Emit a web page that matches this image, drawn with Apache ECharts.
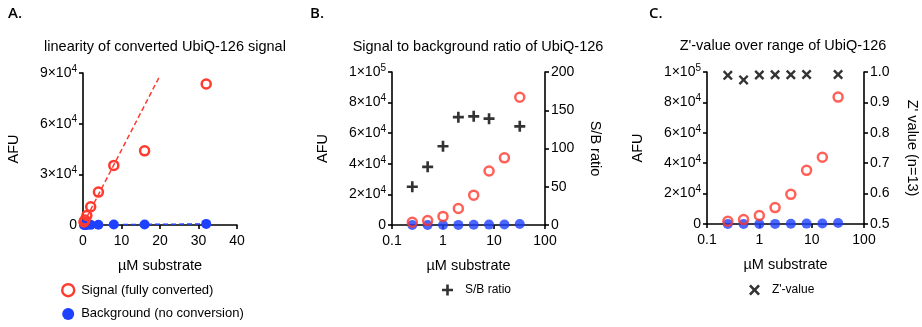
<!DOCTYPE html>
<html><head><meta charset="utf-8">
<script src="https://cdn.jsdelivr.net/npm/echarts@6/dist/echarts.min.js"></script>
<style>html,body{margin:0;padding:0;background:#fff}#c{width:922px;height:327px}</style>
</head><body><div id="c"></div>
<script>
// ---- data ----
const conc = [0.25, 0.5, 1, 2, 4, 8, 16, 32];
const signal = [1800, 2900, 5600, 10800, 19500, 35300, 43900, 83500];
const background = [36, 38, 54, 76, 135, 252, 340, 647];
const sbConc = [0.25, 0.5, 1, 2, 4, 8, 32];
const sbRatio = [50, 76, 103, 141, 142, 139, 129];
const zConc = [0.25, 0.5, 1, 2, 4, 8, 32];
const zValue = [0.989, 0.974, 0.990, 0.991, 0.991, 0.992, 0.992];
const fitSignalX = [0, 20];
const fitSignalY = [300, 88500];
const fitBgX = [0, 32];
const fitBgY = [20, 650];
const titles = ['linearity of converted UbiQ-126 signal', 'Signal to background ratio of UbiQ-126', "Z'-value over range of UbiQ-126"];
const panelLetters = ['A.', 'B.', 'C.'];
const xName = 'µM substrate';
const yName = 'AFU';
const legendA = ['Signal (fully converted)', 'Background (no conversion)'];

const RED = '#ff3a2e', BLUE = '#1e40ff', FONT = 'Liberation Sans, Arial, sans-serif';
const pair = (xs, ys) => xs.map((x, i) => [x, ys[i]]);
const PLUS = 'path://M3.8,0 H6.2 V3.8 H10 V6.2 H6.2 V10 H3.8 V6.2 H0 V3.8 H3.8 Z';
const CROSS = 'path://M1.7,0 L5,3.3 L8.3,0 L10,1.7 L6.7,5 L10,8.3 L8.3,10 L5,6.7 L1.7,10 L0,8.3 L3.3,5 L0,1.7 Z';

function sci(v) {
  if (v === 0) return '{m|0}';
  const e = Math.floor(Math.log10(v) + 1e-9);
  const m = Math.round(v / Math.pow(10, e));
  return '{m|' + m + '×10}{e|' + e + '}';
}
const sciRich = {
  m: {fontSize: 14, fontFamily: FONT, color: '#000', lineHeight: 18},
  e: {fontSize: 10, fontFamily: FONT, color: '#000', lineHeight: 10, verticalAlign: 'top'}
};
const axisLine = {show: true, lineStyle: {color: '#000', width: 1.6}};
const axisTick = {show: true, length: 4, lineStyle: {color: '#000', width: 1.6}};
const nameStyle = {fontSize: 14.5, fontFamily: FONT, color: '#000'};
const lab = {fontSize: 14, fontFamily: FONT, color: '#000'};

function xLin(g) {
  return {type: 'value', gridIndex: g, min: 0, max: 40, interval: 10, name: xName, nameLocation: 'middle', nameGap: 33,
    nameTextStyle: nameStyle, axisLine, axisTick, axisLabel: Object.assign({margin: 9}, lab), splitLine: {show: false}};
}
function xLog(g) {
  return {type: 'log', logBase: 10, gridIndex: g, min: 0.1, max: 100, name: xName, nameLocation: 'middle', nameGap: 33,
    nameTextStyle: nameStyle, axisLine, axisTick, splitLine: {show: false},
    axisLabel: Object.assign({margin: 9, formatter: v => String(+(+v).toPrecision(3))}, lab)};
}
function yAFU(g, max, interval) {
  return {type: 'value', gridIndex: g, min: 0, max, interval, name: yName, nameLocation: 'middle', nameGap: 62,
    nameTextStyle: nameStyle, axisLine, axisTick, splitLine: {show: false},
    axisLabel: {margin: 6, formatter: sci, rich: sciRich}};
}
const letterStyle = {fontFamily: 'Open Sans', fontSize: 15, fontWeight: 600, color: '#000'};
const titleStyle = {fontFamily: FONT, fontSize: 14.5, fontWeight: 'normal', color: '#000'};

const option = {
  backgroundColor: '#fff',
  animation: false,
  title: [
    {text: panelLetters[0], left: 3, top: 1, textStyle: letterStyle},
    {text: panelLetters[1], left: 305, top: 1, textStyle: letterStyle},
    {text: panelLetters[2], left: 644, top: 1, textStyle: letterStyle},
    {text: titles[0], left: 160, top: 34, textAlign: 'center', textStyle: titleStyle},
    {text: titles[1], left: 473, top: 34, textAlign: 'center', textStyle: titleStyle},
    {text: titles[2], left: 778, top: 33, textAlign: 'center', textStyle: titleStyle}
  ],
  grid: [
    {left: 83, top: 73, width: 154, height: 152},
    {left: 392, top: 72, width: 153, height: 153},
    {left: 707, top: 72, width: 157, height: 152}
  ],
  xAxis: [xLin(0), xLog(1), xLog(2)],
  yAxis: [
    yAFU(0, 90000, 30000),
    yAFU(1, 100000, 20000),
    {type: 'value', gridIndex: 1, position: 'right', min: 0, max: 200, interval: 50, name: 'S/B ratio', nameLocation: 'middle',
      nameGap: 42, nameRotate: -90, nameTextStyle: nameStyle, axisLine, axisTick, splitLine: {show: false},
      axisLabel: Object.assign({margin: 6}, lab)},
    yAFU(2, 100000, 20000),
    {type: 'value', gridIndex: 2, position: 'right', min: 0.5, max: 1.0, interval: 0.1, name: "Z' value (n=13)", nameLocation: 'middle',
      nameGap: 40, nameRotate: -90, nameTextStyle: nameStyle, axisLine, axisTick, splitLine: {show: false},
      axisLabel: Object.assign({margin: 6, formatter: v => (+v).toFixed(1)}, lab)}
  ],
  legend: [
    {orient: 'vertical', left: 56, top: 278, itemGap: 10, itemWidth: 12, itemHeight: 12,
      textStyle: {fontFamily: FONT, fontSize: 13, color: '#000', padding: [0, 0, 0, 2]},
      data: [
        {name: legendA[0], icon: 'circle', itemStyle: {color: 'transparent', borderColor: RED, borderWidth: 2.4}},
        {name: legendA[1], icon: 'circle', itemStyle: {color: BLUE}}
      ]},
    {left: 437, top: 279, itemWidth: 11, itemHeight: 11, textStyle: {fontFamily: FONT, fontSize: 12, color: '#000', padding: [0, 0, 0, 7]},
      data: [{name: 'S/B ratio', icon: PLUS, itemStyle: {color: '#000'}}]},
    {left: 744, top: 279, itemWidth: 11, itemHeight: 11, textStyle: {fontFamily: FONT, fontSize: 12, color: '#000', padding: [0, 0, 0, 7]},
      data: [{name: "Z'-value", icon: CROSS, itemStyle: {color: '#000'}}]}
  ],
  series: [
    // Panel A
    {type: 'line', name: 'fitS', xAxisIndex: 0, yAxisIndex: 0, data: pair(fitSignalX, fitSignalY), showSymbol: false, silent: true,
      lineStyle: {color: RED, width: 1.5, type: [5, 3]}, z: 1},
    {type: 'line', name: 'fitB', xAxisIndex: 0, yAxisIndex: 0, data: pair(fitBgX, fitBgY), showSymbol: false, silent: true,
      lineStyle: {color: BLUE, width: 1.5, type: [5, 3]}, z: 1},
    {type: 'scatter', name: legendA[1], xAxisIndex: 0, yAxisIndex: 0, data: pair(conc, background), symbol: 'circle', symbolSize: 10,
      itemStyle: {color: BLUE, opacity: 1}, z: 2},
    {type: 'scatter', name: legendA[0], xAxisIndex: 0, yAxisIndex: 0, data: pair(conc, signal), symbol: 'circle', symbolSize: 9,
      itemStyle: {color: 'transparent', borderColor: RED, borderWidth: 2.5, opacity: 1}, z: 3},
    // Panel B
    {type: 'scatter', name: 'bgB', xAxisIndex: 1, yAxisIndex: 1, data: pair(conc, background), symbol: 'circle', symbolSize: 10,
      itemStyle: {color: BLUE}, z: 2},
    {type: 'scatter', name: 'sigB', xAxisIndex: 1, yAxisIndex: 1, data: pair(conc, signal), symbol: 'circle', symbolSize: 9,
      itemStyle: {color: 'transparent', borderColor: RED, borderWidth: 2.5}, z: 3},
    {type: 'scatter', name: 'S/B ratio', xAxisIndex: 1, yAxisIndex: 2, data: pair(sbConc, sbRatio), symbol: PLUS, symbolSize: 11,
      itemStyle: {color: '#000'}, z: 4},
    // Panel C
    {type: 'scatter', name: 'bgC', xAxisIndex: 2, yAxisIndex: 3, data: pair(conc, background), symbol: 'circle', symbolSize: 10,
      itemStyle: {color: BLUE}, z: 2},
    {type: 'scatter', name: 'sigC', xAxisIndex: 2, yAxisIndex: 3, data: pair(conc, signal), symbol: 'circle', symbolSize: 9,
      itemStyle: {color: 'transparent', borderColor: RED, borderWidth: 2.5}, z: 3},
    {type: 'scatter', name: "Z'-value", xAxisIndex: 2, yAxisIndex: 4, data: pair(zConc, zValue), symbol: CROSS, symbolSize: 10,
      itemStyle: {color: '#000'}, z: 4}
  ]
};
const chart = echarts.init(document.getElementById('c'), null, {renderer: 'canvas'});
chart.setOption(option);
</script></body></html>
